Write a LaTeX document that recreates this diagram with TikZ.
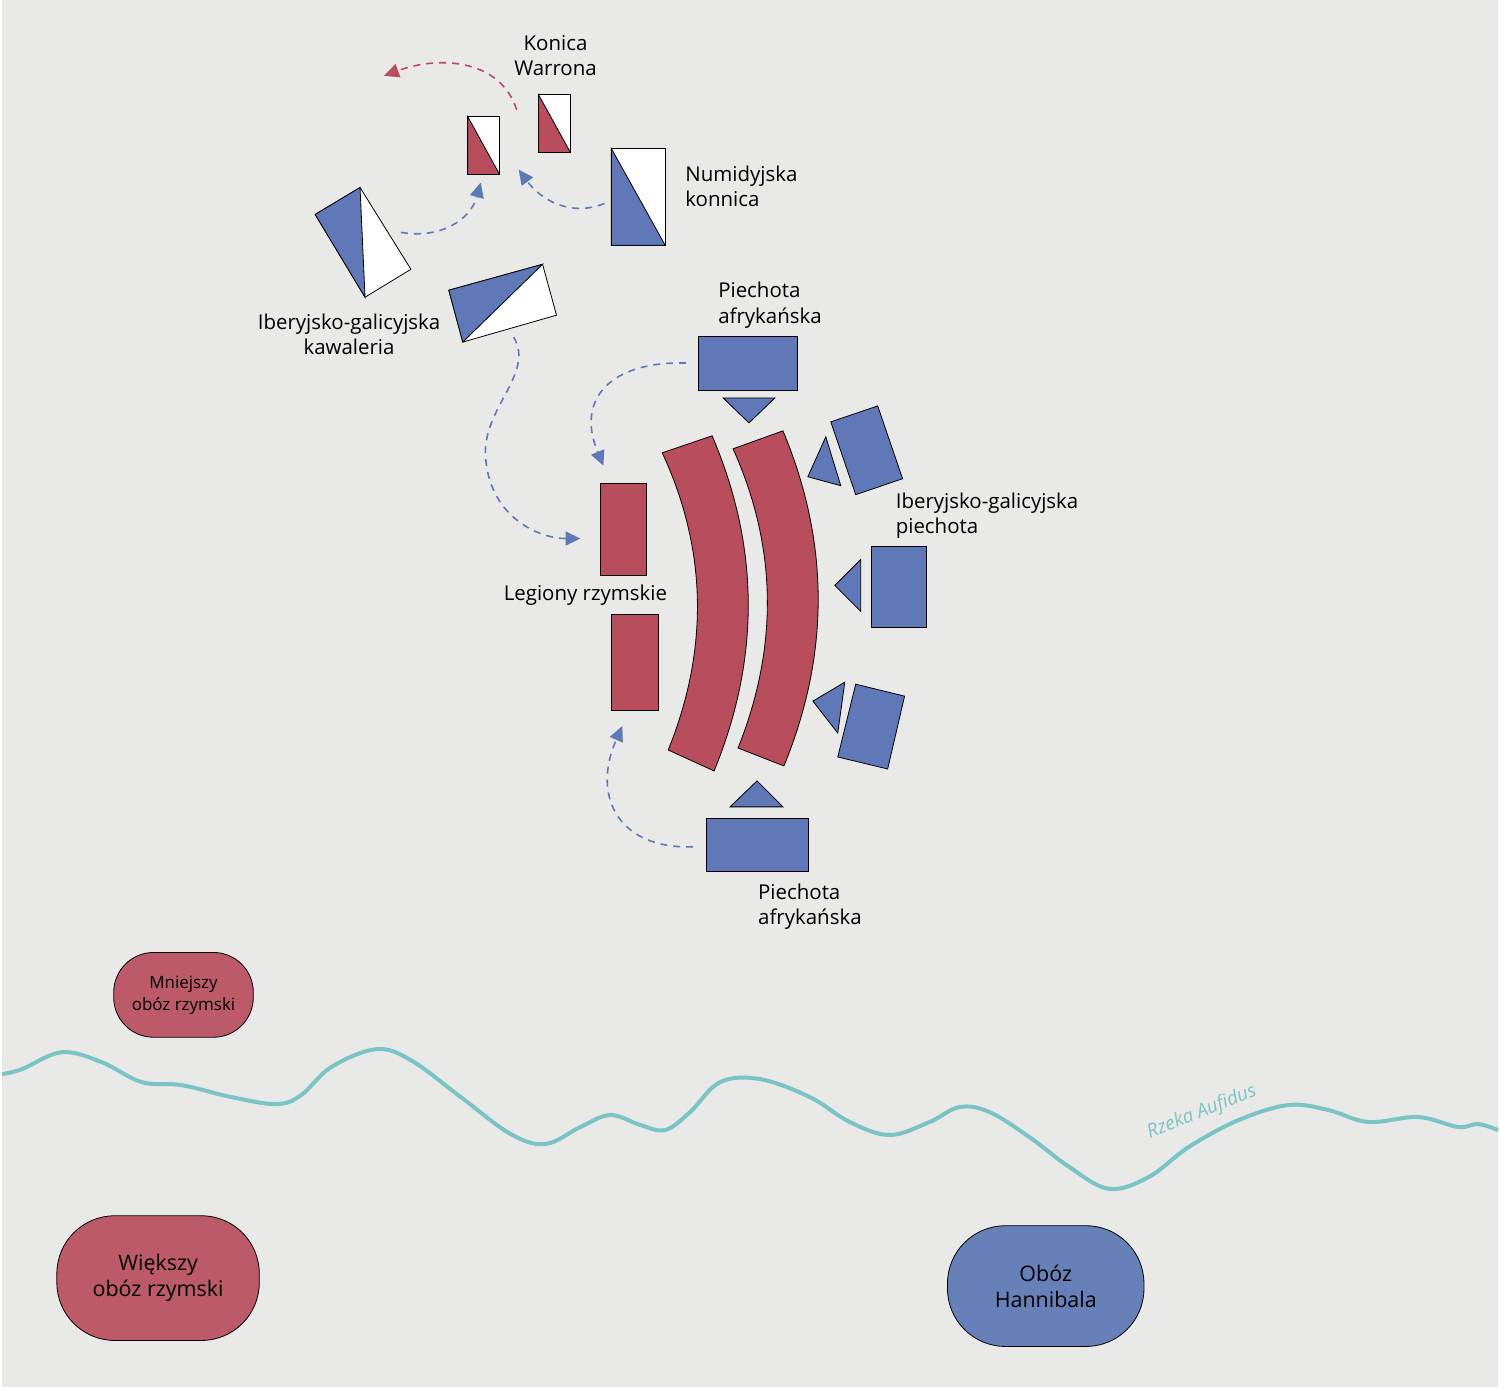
\documentclass[tikz,border=0pt]{standalone}
\usepackage{fontspec}
\setmainfont{Open Sans}
\usetikzlibrary{arrows.meta}
\definecolor{bg}{HTML}{E9E9E7}
\definecolor{rr}{HTML}{B84D5E}
\definecolor{bb}{HTML}{6178B8}
\definecolor{riv}{HTML}{7BC4C4}
\definecolor{rc}{HTML}{BC5A6A}
\definecolor{bc}{HTML}{6880B8}
\begin{document}
\begin{tikzpicture}[x=1pt,y=-1pt,
 unit/.style={draw=black,line width=0.8pt,line join=miter},
 red/.style={unit,fill=rr}, blue/.style={unit,fill=bb}, wht/.style={unit,fill=white},
 lbl/.style={font=\fontsize{20.5}{25.5}\selectfont,align=left,inner sep=0pt},
 mv/.style={dashed,dash pattern=on 7pt off 6pt,line width=1.6pt,-{Triangle[length=15pt,width=14pt]}},
 camp/.style={draw=black,line width=0.8pt,align=center,inner sep=0pt}]
\fill[bg] (0,0) rectangle (1500,1391);
% Konica Warrona
\draw[wht] (538,95) rectangle (570,153);
\draw[red] (538,95)--(538,153)--(570,153)--cycle;
\draw[wht] (467,117) rectangle (499,175);
\draw[red] (467,117)--(467,175)--(499,175)--cycle;
% Numidian
\draw[wht] (611,149) rectangle (665,246);
\draw[blue] (611,149)--(611,246)--(665,246)--cycle;
% Iberian cavalry
\draw[wht] (314,215)--(359,188)--(410,270)--(364,298)--cycle;
\draw[blue] (314,215)--(359,188)--(364,298)--cycle;
\draw[wht] (448,291)--(542,265)--(556,316)--(462,343)--cycle;
\draw[blue] (448,291)--(542,265)--(462,343)--cycle;
% African infantry top
\draw[blue] (698,337) rectangle (798,391);
\draw[blue] (723,399)--(775,399)--(749,424)--cycle;
% Legions
\draw[red] (600,485) rectangle (646,577);
\draw[red] (611,616) rectangle (658,712);
\draw[red] (662,454) .. controls (708,553) and (708,653) .. (668,752) -- (714,773) .. controls (760,661) and (760,549) .. (712,437) -- cycle;
\draw[red] (733,450) .. controls (778,550) and (778,650) .. (738,750) -- (784,768) .. controls (830,656) and (830,544) .. (783,432) -- cycle;
% Iberian infantry
\draw[blue] (831,423)--(878,407)--(903,480)--(856,496)--cycle;
\draw[blue] (808,478)--(826,438)--(841,487)--cycle;
\draw[blue] (872,548) rectangle (927,629);
\draw[blue] (835,587)--(861,561)--(861,613)--cycle;
\draw[blue] (856,686)--(905,698)--(888,771)--(838,759)--cycle;
\draw[blue] (813,703)--(845,684)--(838,735)--cycle;
% African infantry bottom
\draw[blue] (706,821) rectangle (809,874);
\draw[blue] (730,809)--(783,809)--(757,783)--cycle;
% movements
\draw[mv,rr] (516,110) .. controls (500,60) and (440,55) .. (383,76);
\draw[mv,bb] (400,233) .. controls (440,240) and (470,220) .. (480,183);
\draw[mv,bb] (604,204) .. controls (570,218) and (540,200) .. (518,170);
\draw[mv,bb] (513,338) .. controls (535,375) and (480,410) .. (485,460) .. controls (490,520) and (540,540) .. (580,540);
\draw[mv,bb] (686,364) .. controls (610,362) and (575,400) .. (603,467);
\draw[mv,bb] (693,849) .. controls (620,852) and (590,800) .. (622,728);
% labels
\node[lbl,align=center] at (555,56) {Konica\\Warrona};
\node[lbl,anchor=west] at (685,187) {Numidyjska\\konnica};
\node[lbl,align=center] at (348,335) {Iberyjsko-galicyjska\\kawaleria};
\node[lbl,anchor=west] at (718,306) {Piechota\\afrykańska};
\node[lbl,anchor=west] at (896,517) {Iberyjsko-galicyjska\\piechota};
\node[lbl] at (585,597) {Legiony rzymskie};
\node[lbl,anchor=west] at (758,909) {Piechota\\afrykańska};
% river
\draw[riv,line width=4pt] plot[smooth,tension=0.6] coordinates {(0,1077)(20,1072)(60,1055)(100,1065)(140,1085)(180,1088)(230,1100)(275,1107)(300,1098)(330,1070)(375,1052)(410,1063)(460,1100)(510,1137)(545,1147)(580,1130)(610,1118)(640,1128)(665,1133)(690,1115)(720,1085)(760,1082)(810,1100)(850,1125)(890,1138)(930,1125)(960,1110)(990,1115)(1030,1140)(1070,1170)(1110,1192)(1150,1180)(1190,1150)(1240,1123)(1290,1108)(1330,1113)(1370,1125)(1420,1120)(1460,1130)(1480,1127)(1500,1133)};
\node[riv,rotate=22,font=\fontsize{19}{24}\selectfont\itshape] at (1203,1115) {Rzeka Aufidus};
% camps
\node[camp,fill=rc,minimum width=140pt,minimum height=85pt,rounded corners=40pt,font=\fontsize{17}{22}\selectfont] at (182,997.5) {Mniejszy\\obóz rzymski};
\node[camp,fill=rc,minimum width=203pt,minimum height=125pt,rounded corners=58pt,font=\fontsize{21.5}{26}\selectfont] at (156.5,1281.5) {Większy\\obóz rzymski};
\node[camp,fill=bc,minimum width=197pt,minimum height=121pt,rounded corners=58pt,font=\fontsize{21.5}{26}\selectfont] at (1046.5,1289.5) {Obóz\\Hannibala};
\end{tikzpicture}
\end{document}
